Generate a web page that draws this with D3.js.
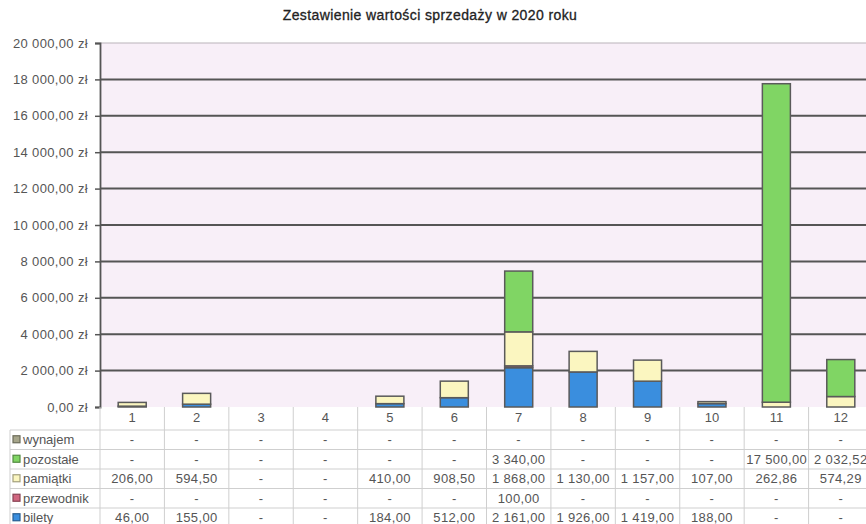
<!DOCTYPE html>
<html>
<head>
<meta charset="utf-8">
<script src="https://cdn.jsdelivr.net/npm/d3@7"></script>
<style>
  body { margin: 0; background: #fff; }
  svg { display: block; font-family: "Liberation Sans", Arial, sans-serif; }
</style>
</head>
<body>
<svg id="chart" width="866" height="524"></svg>
<script>
// data
const months = ["1", "2", "3", "4", "5", "6", "7", "8", "9", "10", "11", "12"];
const bilety = [46, 155, 0, 0, 184, 512, 2161, 1926, 1419, 188, 0, 0];
const przewodnik = [0, 0, 0, 0, 0, 0, 100, 0, 0, 0, 0, 0];
const pamiatki = [206, 594.5, 0, 0, 410, 908.5, 1868, 1130, 1157, 107, 262.86, 574.29];
const pozostale = [0, 0, 0, 0, 0, 0, 3340, 0, 0, 0, 17500, 2032.52];
const wynajem = [0, 0, 0, 0, 0, 0, 0, 0, 0, 0, 0, 0];
const seriesNames = ["bilety", "przewodnik", "pamiątki", "pozostałe", "wynajem"];
const yTicks = [0, 2000, 4000, 6000, 8000, 10000, 12000, 14000, 16000, 18000, 20000];

const colors = {
    "bilety": "#3a8ede",
    "przewodnik": "#d0667f",
    "pamiątki": "#fbf6c0",
    "pozostałe": "#80d564",
    "wynajem": "#a6a58a"
};

const pl = d3.formatLocale({decimal: ",", thousands: " ", grouping: [3], currency: ["", " zł"]});
const fmt = pl.format(",.2f");

let rows = months.map((m, i) => ({
    month: m,
    "bilety": bilety[i],
    "przewodnik": przewodnik[i],
    "pamiątki": pamiatki[i],
    "pozostałe": pozostale[i],
    "wynajem": wynajem[i]
}));

const plotLeft = 100, plotRight = 873, plotTop = 43, base = 407;
const headH = 23, rowH = 19.5, tableLeft = 10;
const labelSize = "13px", spacing = "0.35px";

const svg = d3.select("#chart");

var x = d3.scaleBand().domain(months).range([plotLeft, plotRight]).paddingInner(0.565).paddingOuter(0.2825);
var xc = d3.scaleBand().domain(months).range([plotLeft, plotRight]);
var y = d3.scaleLinear().domain([0, 20000]).range([base, plotTop]);

// plot background
svg.append("rect")
    .attr("x", plotLeft).attr("y", plotTop)
    .attr("width", plotRight - plotLeft).attr("height", base - plotTop)
    .attr("fill", "#f8eff8");

// title
svg.append("text")
    .attr("x", 430).attr("y", 20)
    .attr("text-anchor", "middle")
    .attr("font-size", "14px")
    .attr("letter-spacing", "0.4px")
    .attr("fill", "#222")
    .attr("stroke", "#222")
    .attr("stroke-width", 0.3)
    .text("Zestawienie wartości sprzedaży w 2020 roku");

// gridlines
svg.append("g")
    .selectAll("line")
    .data(yTicks.filter(d => d > 0))
    .join("line")
    .attr("x1", plotLeft).attr("x2", plotRight)
    .attr("y1", d => y(d)).attr("y2", d => y(d))
    .attr("stroke", d => d === 20000 ? "#b9b3b9" : "#555")
    .attr("stroke-width", d => d === 20000 ? 1.2 : 2);

// y axis
const yAxis = svg.append("g")
    .attr("transform", `translate(${plotLeft},0)`)
    .call(d3.axisLeft(y).tickValues(yTicks).tickSize(5).tickPadding(7)
        .tickFormat(d => fmt(d) + " zł"));
yAxis.select(".domain").attr("stroke", "#555").attr("stroke-width", 1.8);
yAxis.selectAll(".tick line").attr("stroke", "#555").attr("stroke-width", 1.5);
yAxis.selectAll(".tick text")
    .attr("font-size", labelSize)
    .attr("letter-spacing", spacing)
    .attr("fill", "#555")
    .attr("font-family", "Liberation Sans, Arial, sans-serif");

// stacked bars
const stack = d3.stack().keys(seriesNames);
const stacked = stack(rows);

svg.append("g")
    .selectAll("g")
    .data(stacked)
    .join("g")
    .attr("fill", d => colors[d.key])
    .selectAll("rect")
    .data(d => d.filter(s => s[1] - s[0] > 0))
    .join("rect")
    .attr("x", d => x(d.data.month))
    .attr("y", d => y(d[1]))
    .attr("width", x.bandwidth())
    .attr("height", d => y(d[0]) - y(d[1]))
    .attr("stroke", "#5a5a5a")
    .attr("stroke-width", 1.5);

// data table
const table = svg.append("g");
const gridColor = "#cfcfcf";
const tableBottom = base + headH + rowH * seriesNames.length;

// header (category labels)
table.selectAll(".cat")
    .data(months)
    .join("text")
    .attr("class", "cat")
    .attr("x", d => xc(d) + xc.bandwidth() / 2)
    .attr("y", base + 15)
    .attr("text-anchor", "middle")
    .attr("font-size", labelSize)
    .attr("fill", "#555")
    .text(d => d);

// horizontal lines
const hLines = [base + headH];
for (let i = 1; i <= seriesNames.length; i++) hLines.push(base + headH + rowH * i);
table.selectAll(".hl")
    .data(hLines)
    .join("line")
    .attr("x1", tableLeft).attr("x2", plotRight)
    .attr("y1", d => d).attr("y2", d => d)
    .attr("stroke", gridColor);

// vertical lines
table.selectAll(".vl")
    .data(months.slice(1).concat(["end"]))
    .join("line")
    .attr("x1", d => d === "end" ? plotRight : xc(d))
    .attr("x2", d => d === "end" ? plotRight : xc(d))
    .attr("y1", base).attr("y2", tableBottom)
    .attr("stroke", gridColor);
table.append("line")
    .attr("x1", plotLeft).attr("x2", plotLeft)
    .attr("y1", base).attr("y2", tableBottom)
    .attr("stroke", gridColor);
table.append("line")
    .attr("x1", tableLeft).attr("x2", tableLeft)
    .attr("y1", base + headH).attr("y2", tableBottom)
    .attr("stroke", gridColor);

// rows, top to bottom: reverse of stack order
const tableSeries = seriesNames.slice().reverse();
tableSeries.forEach((name, r) => {
    let ry = base + headH + rowH * r;
    let cy = ry + rowH / 2 + 4.5;

    table.append("rect")
        .attr("x", tableLeft + 3).attr("y", ry + rowH / 2 - 4)
        .attr("width", 7).attr("height", 7)
        .attr("fill", colors[name])
        .attr("stroke", d3.color(colors[name]).darker(1.2))
        .attr("stroke-width", 1.2);
    table.append("text")
        .attr("x", tableLeft + 13).attr("y", cy)
        .attr("font-size", labelSize)
        .attr("fill", "#555")
        .text(name);

    rows.forEach((row, c) => {
        let v = row[name];
        let cx = xc(row.month);
        let clipId = `clip_${r}_${c}`;
        svg.append("clipPath").attr("id", clipId)
            .append("rect")
            .attr("x", cx + 1).attr("y", ry)
            .attr("width", xc.bandwidth() - 2).attr("height", rowH);
        let t = table.append("text")
            .attr("clip-path", `url(#${clipId})`)
            .attr("x", cx + xc.bandwidth() / 2).attr("y", cy)
            .attr("text-anchor", "middle")
            .attr("font-size", labelSize)
            .attr("letter-spacing", spacing)
            .attr("fill", "#555")
            .text(v === 0 ? "-" : fmt(v));
        if (t.node().getComputedTextLength() > xc.bandwidth() - 4) {
            t.attr("x", cx + 2).attr("text-anchor", "start");
        }
    });
});
</script>
</body>
</html>
